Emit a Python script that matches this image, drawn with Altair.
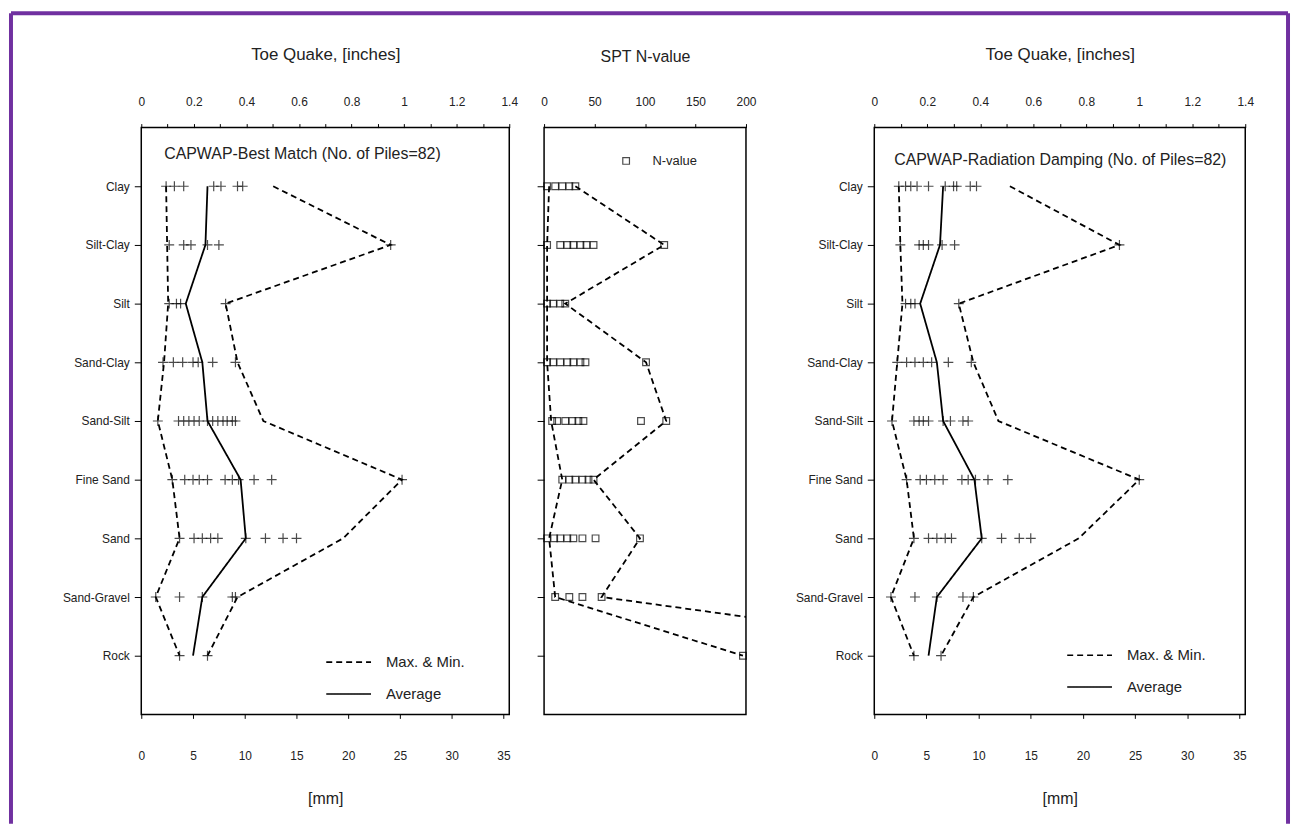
import altair as alt
import pandas as pd

FONT = "Liberation Sans"
INK = "#222222"

soils = ["Clay", "Silt-Clay", "Silt", "Sand-Clay", "Sand-Silt",
         "Fine Sand", "Sand", "Sand-Gravel", "Rock"]

# ---- CAPWAP Best Match (toe quake, mm) ----
best_min = [2.4, 2.5, 2.6, 2.2, 1.6, 3.0, 3.7, 1.4, 3.7]
best_avg = [6.4, 6.2, 4.3, 5.9, 6.4, 9.6, 10.1, 5.9, 5.0]
best_max = [12.75, 24.1, 8.15, 9.3, 11.8, 25.2, 19.5, 9.3, 6.4]
best_pts = [
    [2.4, 3.2, 4.1, 7.0, 7.7, 9.3, 9.8],
    [2.7, 4.1, 4.8, 6.4, 7.5, 24.1],
    [2.7, 3.4, 3.8, 8.15],
    [2.1, 3.1, 4.0, 5.0, 5.5, 6.9, 9.1],
    [1.6, 3.6, 4.1, 4.6, 5.1, 5.6, 6.4, 6.9, 7.4, 7.9, 8.3, 8.8, 9.1],
    [3.0, 4.2, 5.0, 5.6, 6.4, 8.1, 8.8, 9.4, 10.9, 12.6, 25.2],
    [3.7, 5.1, 5.9, 6.7, 7.4, 10.1, 12.0, 13.7, 15.0],
    [1.4, 3.7, 5.9, 8.8, 9.1],
    [3.7, 6.4],
]

# ---- CAPWAP Radiation Damping (toe quake, mm) ----
rad_min = [2.35, 2.5, 2.7, 2.2, 1.7, 3.1, 3.8, 1.6, 3.8]
rad_avg = [6.6, 6.3, 4.4, 6.0, 6.6, 9.6, 10.3, 6.0, 5.2]
rad_max = [13.0, 23.5, 8.1, 9.5, 11.9, 25.4, 19.6, 9.5, 6.4]
rad_pts = [
    [2.35, 3.0, 3.5, 4.1, 5.2, 6.8, 7.6, 7.9, 9.2, 9.8],
    [2.5, 4.3, 4.7, 5.2, 6.5, 7.7, 23.5],
    [3.0, 3.5, 3.9, 8.1],
    [2.2, 3.1, 3.9, 4.7, 5.5, 7.1, 9.3],
    [1.7, 3.8, 4.3, 4.7, 5.2, 6.6, 7.3, 8.5, 9.0],
    [3.1, 4.4, 5.0, 5.8, 6.6, 8.4, 9.0, 9.7, 10.9, 12.8, 25.4],
    [3.8, 5.2, 6.0, 6.8, 7.4, 10.3, 12.2, 13.9, 15.0],
    [1.6, 3.9, 6.0, 8.5, 9.5],
    [3.8, 6.4],
]

# ---- SPT N-value ----
n_min = [5, 3, 3, 3, 7, 18, 5, 11, 197]
n_max = [31, 119, 21, 101, 121, 49, 95, 57, 480]
n_pts = [
    [3, 11, 18, 25, 31],
    [3, 16, 23, 29, 36, 42, 49, 119],
    [3, 9, 16, 21],
    [3, 9, 16, 23, 29, 36, 41, 101],
    [8, 13, 21, 28, 34, 39, 96, 121],
    [18, 25, 31, 38, 44, 49],
    [3, 10, 16, 23, 29, 38, 51, 95],
    [11, 25, 38, 57],
    [197],
]

# ---- axis ticks ----
inch_ticks = [0, 0.1, 0.2, 0.3, 0.4, 0.5, 0.6, 0.7, 0.8, 0.9, 1.0, 1.1, 1.2, 1.3, 1.4]
mm_ticks = [0, 2.5, 5, 7.5, 10, 12.5, 15, 17.5, 20, 22.5, 25, 27.5, 30, 32.5, 35]
n_ticks = [0, 25, 50, 75, 100, 125, 150, 175, 200]

series_names = ["Max. & Min.", "Average"]
H = 590

yscale = alt.Scale(type="point", domain=soils, padding=1)
frame = alt.ViewBackground(stroke="black", strokeWidth=1.5)


def y_enc(labels=True):
    return alt.Y("soil:N", sort=soils, scale=yscale,
                 axis=alt.Axis(title=None, labels=labels, labelFontSize=12, labelFont=FONT,
                               labelColor=INK, tickSize=7, tickColor="black", tickWidth=1,
                               labelPadding=5, domain=False, grid=False))


def lines_frame(mins, avgs, maxs):
    rows = []
    for i, s in enumerate(soils):
        rows.append({"soil": s, "idx": i, "v": mins[i], "line": "min", "series": "Max. & Min."})
        rows.append({"soil": s, "idx": i, "v": maxs[i], "line": "max", "series": "Max. & Min."})
        if avgs is not None:
            rows.append({"soil": s, "idx": i, "v": avgs[i], "line": "avg", "series": "Average"})
    return pd.DataFrame(rows)


def pts_frame(pts):
    rows = []
    for i, s in enumerate(soils):
        for v in pts[i]:
            rows.append({"soil": s, "v": v, "lbl": "N-value"})
    return pd.DataFrame(rows)


def quake_panel(mins, avgs, maxs, pts, label, lab_x, lab_y, lab_size, leg_x, leg_y, row_pad,
                width, border=False):
    mmx = alt.Scale(domain=[0, 35.56], nice=False, zero=False)
    xb = alt.X("v:Q", scale=mmx,
               axis=alt.Axis(orient="bottom", values=mm_ticks, title="[mm]",
                             labelExpr="datum.value % 5 == 0 ? datum.label : ''",
                             labelFontSize=12, labelFont=FONT, labelColor=INK,
                             tickSize=4, tickColor="black", labelPadding=32,
                             titleFontSize=16, titleFont=FONT, titleFontWeight="normal",
                             titleColor=INK, titlePadding=30, domain=False, grid=False,
                             labelFlush=False))
    ldf = lines_frame(mins, avgs, maxs)
    lines = alt.Chart(ldf).mark_line(color="black", strokeWidth=1.8).encode(
        x=xb, y=y_enc(), order="idx:Q", detail="line:N",
        strokeDash=alt.StrokeDash(
            "series:N",
            scale=alt.Scale(domain=series_names, range=[[6, 4], [1, 0]]),
            legend=alt.Legend(orient="none", legendX=leg_x, legendY=leg_y, title=None,
                              symbolType="stroke", symbolSize=2025, symbolStrokeWidth=1.6,
                              symbolStrokeColor="black", labelFontSize=15, labelFont=FONT,
                              labelColor=INK, labelOffset=14, rowPadding=row_pad, padding=0)),
    )
    crosses = alt.Chart(pts_frame(pts)).mark_point(
        shape="M-1,0L1,0M0,-1L0,1", filled=False, color="black", size=100, strokeWidth=1.2
    ).encode(x=alt.X("v:Q", scale=mmx),
             y=alt.Y("soil:N", sort=soils, scale=yscale))
    text = alt.Chart(pd.DataFrame({"t": [label]})).mark_text(
        align="left", baseline="middle", fontSize=lab_size, font=FONT, color=INK
    ).encode(x=alt.value(lab_x), y=alt.value(lab_y), text="t:N")
    top = alt.Chart(pd.DataFrame({"inch": inch_ticks})).mark_point(opacity=0).encode(
        x=alt.X("inch:Q", scale=alt.Scale(domain=[0, 1.4], nice=False, zero=False),
                axis=alt.Axis(orient="top", values=inch_ticks, format=".1~f",
                              labelExpr="round(datum.value * 10) % 2 == 0 ? datum.label : ''",
                              title="Toe Quake, [inches]", labelFontSize=12, labelFont=FONT,
                              labelColor=INK, tickSize=4, tickColor="black", labelPadding=15,
                              titleFontSize=17, titleFont=FONT, titleFontWeight="normal",
                              titleColor=INK, titlePadding=32, domain=False, grid=False,
                              labelFlush=False)))
    layers = [lines, crosses, text]
    if border:
        one = pd.DataFrame({"k": [0]})
        purple = "#7030A0"
        layers += [
            alt.Chart(one).mark_rule(color=purple, strokeWidth=4).encode(
                x=alt.value(-131), y=alt.value(-115), y2=alt.value(700)),
            alt.Chart(one).mark_rule(color=purple, strokeWidth=4).encode(
                x=alt.value(-131), x2=alt.value(1153), y=alt.value(-115)),
            alt.Chart(one).mark_rule(color=purple, strokeWidth=4).encode(
                x=alt.value(1153), y=alt.value(-115), y2=alt.value(700)),
        ]
    inner = alt.layer(*layers)
    return alt.layer(top, inner).resolve_scale(x="independent").properties(
        width=width, height=H, view=frame)


left = quake_panel(best_min, best_avg, best_max, best_pts,
                   "CAPWAP-Best Match (No. of Piles=82)", 23, 27, 16, 185, 514, -1, 370,
                   border=True)
right = quake_panel(rad_min, rad_avg, rad_max, rad_pts,
                    "CAPWAP-Radiation Damping (No. of Piles=82)", 20, 33, 16, 193, 507, -6, 373)

# middle panel
nx = alt.Scale(domain=[0, 200], nice=False, zero=False)
n_lines = alt.Chart(lines_frame(n_min, None, n_max)).mark_line(
    color="black", strokeWidth=1.8, strokeDash=[6, 4], clip=True
).encode(
    x=alt.X("v:Q", scale=nx,
            axis=alt.Axis(orient="top", values=n_ticks, title="SPT N-value",
                          labelExpr="datum.value % 50 == 0 ? datum.label : ''",
                          labelFontSize=12, labelFont=FONT, labelColor=INK, tickSize=4,
                          tickColor="black", labelPadding=15, titleFontSize=16, titleFont=FONT,
                          titleFontWeight="normal", titleColor=INK, titlePadding=31,
                          domain=False, grid=False, labelFlush=False)),
    y=y_enc(labels=False), order="idx:Q", detail="line:N",
)
n_squares = alt.Chart(pts_frame(n_pts)).mark_point(
    filled=False, color="black", size=45, strokeWidth=1.2
).encode(
    x=alt.X("v:Q", scale=nx), y=alt.Y("soil:N", sort=soils, scale=yscale),
    shape=alt.Shape("lbl:N", scale=alt.Scale(domain=["N-value"], range=["square"]),
                    legend=alt.Legend(orient="none", legendX=76, legendY=27, title=None,
                                      symbolSize=45, symbolStrokeColor="black",
                                      symbolStrokeWidth=1.2, symbolFillColor="transparent",
                                      labelFontSize=13, labelFont=FONT, labelColor=INK,
                                      labelOffset=20, padding=0)),
)
middle = alt.layer(n_lines, n_squares).properties(width=203, height=H, view=frame)

# empty spacer view between the N-value panel and the right panel
spacer = alt.Chart(pd.DataFrame({"k": [0]})).mark_point(opacity=0).properties(
    width=59, height=H, view=alt.ViewBackground(stroke=None))

chart = alt.hconcat(left, middle, spacer, right, spacing=35, bounds="flush").resolve_scale(
    strokeDash="independent", shape="independent").resolve_legend(
    strokeDash="independent", shape="independent").properties(
    padding=0, background="white"
).configure(font=FONT).configure_view(stroke="black", strokeWidth=1.5)

chart.save("out.html", embed_options={"renderer": "svg", "actions": False})
